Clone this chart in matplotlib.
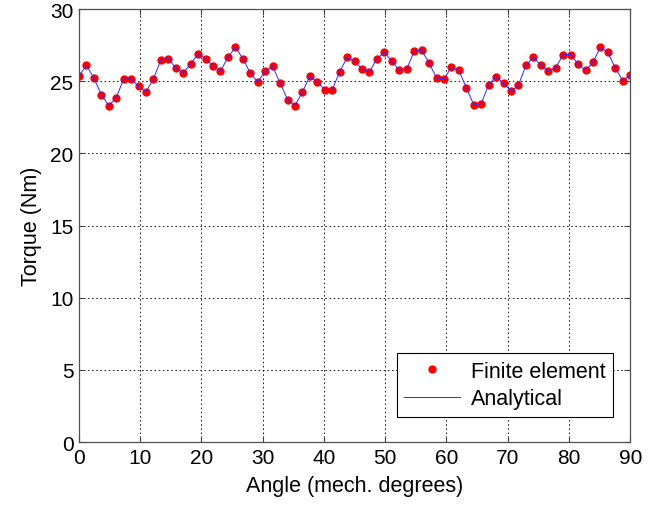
import numpy as np
import matplotlib
matplotlib.use("Agg")
import matplotlib.pyplot as plt

plt.rcParams["font.family"] = ["Liberation Sans", "DejaVu Sans"]

# torque samples (75 points, 0..90 deg)
torque = [25.35, 26.11, 25.23, 24.08, 23.31, 23.85, 25.16, 25.16, 24.65, 24.26,
          25.16, 26.48, 26.57, 25.92, 25.58, 26.20, 26.92, 26.57, 26.04, 25.69,
          26.66, 27.36, 26.57, 25.58, 24.95, 25.69, 26.04, 24.88, 23.73, 23.31,
          24.26, 25.35, 24.95, 24.42, 24.42, 25.65, 26.66, 26.39, 25.85, 25.65,
          26.57, 27.00, 26.39, 25.76, 25.85, 27.08, 27.15, 26.27, 25.23, 25.16,
          25.97, 25.76, 24.54, 23.38, 23.45, 24.77, 25.30, 24.88, 24.30, 24.72,
          26.11, 26.66, 26.11, 25.69, 25.92, 26.85, 26.85, 26.20, 25.76, 26.32,
          27.36, 27.00, 25.92, 25.05, 25.42]
angle = np.linspace(0, 90, len(torque))

xticks = [0, 10, 20, 30, 40, 50, 60, 70, 80, 90]
yticks = [0, 5, 10, 15, 20, 25, 30]

fig = plt.figure(figsize=(6.69, 5.06), dpi=100)
ax = fig.add_axes([0.118, 0.1245, 0.824, 0.8555])

ax.plot(angle, torque, "o", color="red", ms=6, mec="none", label="Finite element")
ax.plot(angle, torque, "-", color="#2a2aff", lw=0.7, label="Analytical")

ax.set_xlim(0, 90)
ax.set_ylim(0, 30)
ax.set_xticks(xticks)
ax.set_yticks(yticks)
ax.tick_params(direction="in", length=4, labelsize=15, top=True, right=True,
               color="#404040", pad=4)
for s in ax.spines.values():
    s.set_color("#505050")
    s.set_linewidth(0.9)

ax.grid(True, color="black", linestyle=(0, (2, 3)), linewidth=0.6)

ax.set_xlabel("Angle (mech. degrees)", fontsize=15.5, labelpad=6)
ax.set_ylabel("Torque (Nm)", fontsize=15.5, labelpad=6)

leg = ax.legend(loc="lower right", bbox_to_anchor=(0.969, 0.058), fontsize=15.5,
                fancybox=False, framealpha=1, edgecolor="black",
                handlelength=2.6, handletextpad=0.5, borderpad=0.35,
                labelspacing=0.3, borderaxespad=0)
leg.get_frame().set_linewidth(0.8)

fig.savefig("out.png", dpi=100)
